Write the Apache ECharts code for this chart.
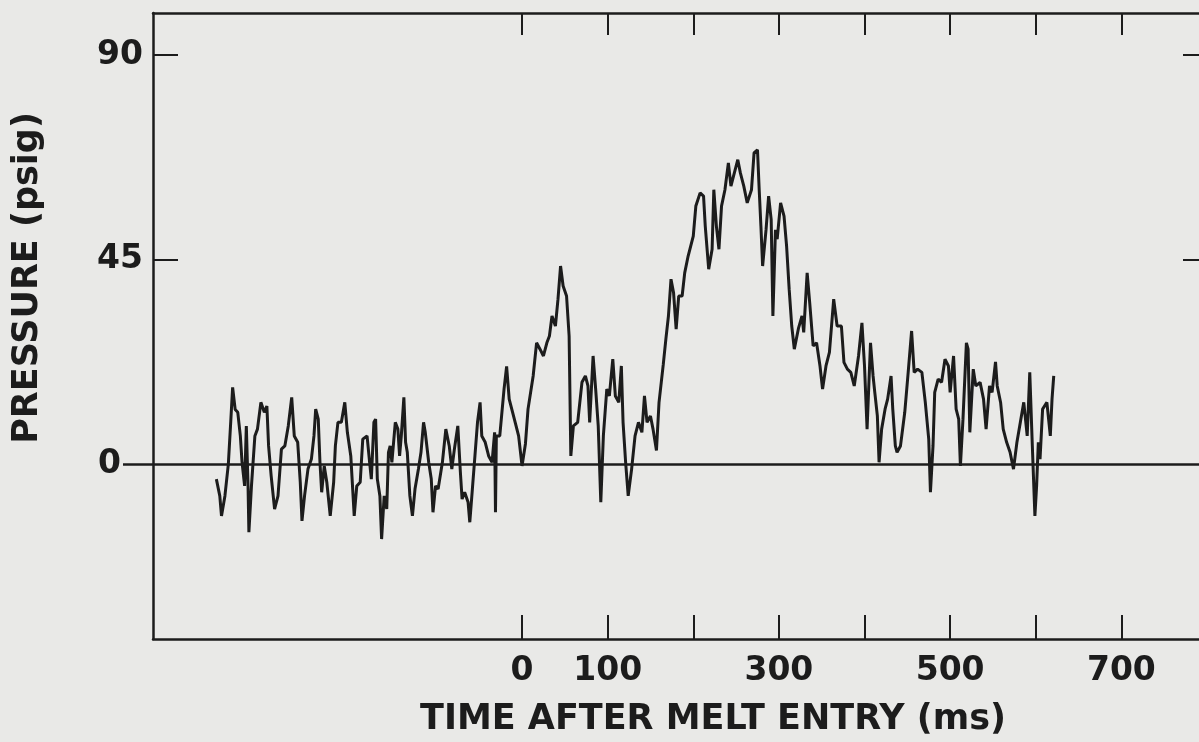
<!DOCTYPE html>
<html>
<head>
<meta charset="utf-8">
<script src="https://cdn.jsdelivr.net/npm/echarts@6/dist/echarts.min.js"></script>
<style>
html,body{margin:0;padding:0;background:#e9e9e7;overflow:hidden;}
#c{width:1215px;height:742px;}
</style>
</head>
<body>
<div id="c"></div>
<script>
// Time after melt entry (ms)
const timeMs = [
-357,-353,-351,-347,-343,-340,-338,-335,-332,-329,-327,-324,-322,-320,-319,-316,-312,-309,-305,-301,
-298,-296,-293,-289,-285,-281,-277,-273,-269,-266,-262,-259,-257,-254,-250,-246,-243,-241,-238,-236,
-234,-231,-228,-224,-220,-218,-215,-211,-207,-204,-200,-196,-193,-189,-186,-181,-178,-176,-173,-171,
-169,-166,-164,-161,-158,-156,-154,-152,-148,-145,-143,-141,-138,-136,-134,-131,-128,-125,-121,-118,
-115,-113,-109,-106,-104,-101,-98,-93,-89,-85,-82,-79,-75,-72,-70,-67,-63,-61,-58,-55,
-52,-49,-47,-43,-39,-35,-32,-31,-30,-26,-21,-18,-15,-11,-8,-4,0,4,7,13,
17,21,25,29,32,35,39,42,45,48,52,55,57,60,65,70,74,77,79,83,
86,89,92,95,99,102,106,109,113,116,118,121,124,128,132,136,140,143,146,150,
153,157,160,165,168,171,174,177,180,183,187,190,194,200,203,208,212,214,218,222,
224,227,230,233,237,241,244,247,252,255,259,263,268,271,275,277,279,281,285,288,
291,293,296,298,302,306,309,312,315,318,323,327,329,333,336,340,344,348,351,355,
359,364,368,373,376,380,384,388,393,397,400,403,407,410,412,415,417,420,424,427,
431,433,436,438,442,447,451,455,458,462,467,471,475,477,480,482,486,490,494,498,
500,504,507,510,512,515,519,521,523,527,530,535,539,542,546,549,553,555,559,562,
566,570,574,578,582,586,590,593,596,599,601,603,605,608,613,617,619,621
];
// Pressure (psig)
const pressurePsig = [
-3.3,-7,-11.4,-7,0,10,16.9,12,11.4,6.2,0.4,-4.8,8.4,-4.8,-15,-4.8,6.2,7.7,13.6,11.4,
12.8,4,-2.6,-9.9,-7,3.3,4,8.4,14.7,6.2,4.8,-4,-12.5,-7,-1.1,1.1,6.2,12.1,9.9,0.4,
-6.2,-0.4,-4,-11.4,-4,4,9.2,9.2,13.6,7,1.8,-11.4,-4.8,-4,5.5,6.2,0.4,-3.3,9.2,9.9,
-3.3,-7,-16.5,-7,-9.9,2.6,4,0.4,9.2,7.7,1.8,6.2,14.7,4.8,2.6,-7,-11.4,-5.5,-1.1,2.6,
9.2,7,0.4,-3.3,-10.6,-4.8,-5.5,0.4,7.7,4,-1.1,3.3,8.4,-1.8,-7.7,-6.2,-8.4,-12.8,-5.5,1.8,
9.2,13.6,6.2,4.8,1.8,0.4,7,-10.6,6.2,6.2,16.5,21.5,14.3,11.4,9.2,6.2,-0.4,4.5,12.1,19.4,
26.7,25.3,23.8,26.7,28.2,32.6,30.4,36.3,43.6,39.2,37,28.2,1.8,8.4,9.2,18,19.4,17.2,9.2,23.8,
16.5,8.4,-8.4,6.2,16.5,15,23.1,15,13.6,21.6,9.2,0.4,-7,-1.1,6.2,9.2,7,15,9.2,10.6,
7.7,3,13.6,22,27.5,32.6,40.7,37.7,29.7,37,37,42.1,45.8,50.2,56.8,59.7,59,52.4,42.9,47.3,
60.4,52.4,47.3,56.8,60.4,66.3,61.2,63.4,67,64.1,61.2,57.5,60.4,68.5,69.2,60.4,52.4,43.6,51.6,59,
53.8,32.6,51.6,49.5,57.5,54.6,48,38.5,30.4,25.3,30,32.6,29,42.1,35.5,26,26.7,21.6,16.5,21.6,
24.6,36.3,30.4,30.4,22.4,20.9,20.2,17.2,23.8,31.1,21.6,7.7,26.7,19.4,15.8,10.6,0.4,7.7,12.1,14.3,
19.4,12.1,4,2.6,4,11.4,20.2,29.3,20.2,20.9,20.2,13.6,5.5,-6.2,4,15.8,18.7,18,23.1,21.6,
15.8,23.8,12.1,9.9,-0.4,9.9,26.7,25.3,7,20.9,17.2,18,14.3,7.7,17.2,15.8,22.5,17.2,13.5,7.7,
4.8,2.6,-1.1,4.8,9.2,13.6,6.2,20.2,4,-11.4,-4.8,4.8,1.1,12.1,13.6,6.2,14.3,19.4
];
// Axis ticks and labels
const xTicks = [0,100,200,300,400,500,600,700];
const xTickLabels = [0,100,300,500,700];
const yTicks = [45,90];
const yTickLabels = [45,90];
const yZero = [0];

const ink = '#1c1c1c';
const font = 'DejaVu Sans';
const chart = echarts.init(document.getElementById('c'), null, {renderer:'canvas'});
const seriesData = timeMs.map((t,i)=>[t, pressurePsig[i]]);
const xMin = -431, xMax = 800, yMin = -38.5, yMax = 99.3;

chart.setOption({
  backgroundColor:'#e9e9e7',
  animation:false,
  grid:{left:153, top:13, right:8, height:627, containLabel:false},
  xAxis:[
    {type:'value', position:'bottom', min:xMin, max:xMax,
     axisLine:{show:true, onZero:false, lineStyle:{color:ink, width:2.5}},
     axisTick:{show:true, inside:true, length:24, customValues:xTicks, lineStyle:{color:ink, width:2}},
     axisLabel:{show:true, customValues:xTickLabels, color:ink, fontFamily:font, fontWeight:'bold', fontSize:33, margin:16},
     splitLine:{show:false},
     name:'TIME AFTER MELT ENTRY (ms)', nameLocation:'middle', nameGap:63,
     nameTextStyle:{color:ink, fontFamily:font, fontWeight:'bold', fontSize:35, padding:[0,0,0,66]}
    },
    {type:'value', position:'top', min:xMin, max:xMax,
     axisLine:{show:true, onZero:false, lineStyle:{color:ink, width:2.5}},
     axisTick:{show:true, inside:true, length:22, customValues:xTicks, lineStyle:{color:ink, width:2}},
     axisLabel:{show:false}, splitLine:{show:false}
    }
  ],
  yAxis:[
    {type:'value', position:'left', min:yMin, max:yMax,
     axisLine:{show:true, onZero:false, lineStyle:{color:ink, width:2.5}},
     axisTick:{show:true, inside:true, length:25, customValues:yTicks, lineStyle:{color:ink, width:2}},
     axisLabel:{show:true, customValues:yTickLabels, color:ink, fontFamily:font, fontWeight:'bold', fontSize:33, margin:10},
     splitLine:{show:false},
     name:'PRESSURE (psig)', nameLocation:'middle', nameGap:108, nameRotate:90,
     nameTextStyle:{color:ink, fontFamily:font, fontWeight:'bold', fontSize:35, padding:[0,0,0,96]}
    },
    {type:'value', position:'left', min:yMin, max:yMax,
     axisLine:{show:false, onZero:false},
     axisTick:{show:true, inside:false, length:30, customValues:yZero, lineStyle:{color:ink, width:2.5}},
     axisLabel:{show:true, customValues:yZero, color:ink, fontFamily:font, fontWeight:'bold', fontSize:33, margin:32},
     splitLine:{show:false}
    },
    {type:'value', position:'right', min:yMin, max:yMax,
     axisLine:{show:true, onZero:false, lineStyle:{color:ink, width:2.5}},
     axisTick:{show:true, inside:true, length:24, customValues:yTicks, lineStyle:{color:ink, width:2}},
     axisLabel:{show:false}, splitLine:{show:false}
    }
  ],
  series:[{
    type:'line', xAxisIndex:0, yAxisIndex:0, data:seriesData,
    showSymbol:false, symbol:'none', smooth:false,
    lineStyle:{color:ink, width:3},
    markLine:{silent:true, symbol:['none','none'], label:{show:false},
      lineStyle:{color:ink, width:2.5, type:'solid'}, data:[{yAxis:0}]}
  }]
});
</script>
</body>
</html>
